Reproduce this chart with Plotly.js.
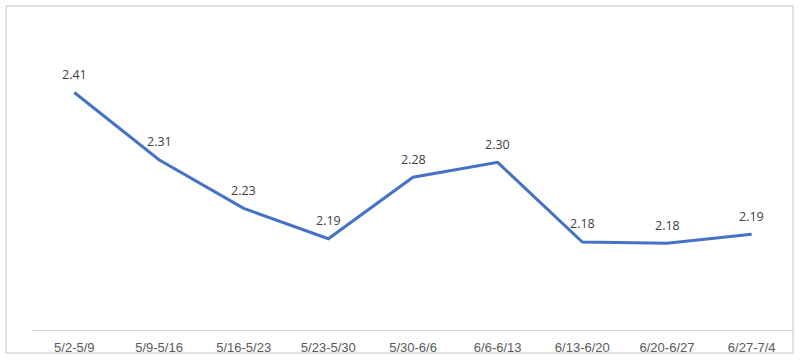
<!DOCTYPE html>
<html>
<head>
<meta charset="utf-8">
<script src="https://cdn.plot.ly/plotly-3.0.1.min.js"></script>
<style>html,body{margin:0;padding:0;background:#fff;}#chart{width:800px;height:361px;}</style>
</head>
<body>
<div id="chart"></div>
<script>
const weeks = ["5/2-5/9","5/9-5/16","5/16-5/23","5/23-5/30","5/30-6/6","6/6-6/13","6/13-6/20","6/20-6/27","6/27-7/4"];
const values = [2.412, 2.308, 2.233, 2.186, 2.281, 2.304, 2.181, 2.179, 2.193];

const W = 800, H = 361;
const m = {l: 32, r: 6, t: 20, b: 31};
const pw = W - m.l - m.r, ph = H - m.t - m.b;

const trace = {
  x: weeks, y: values, type: 'scatter', mode: 'lines',
  line: {color: '#4472C4', width: 3},
  hoverinfo: 'skip'
};

const annotations = weeks.map((w, i) => ({
  x: w, y: values[i], xref: 'x', yref: 'y',
  text: values[i].toFixed(2), showarrow: false,
  yanchor: 'middle', xanchor: 'center', yshift: 18,
  font: {family: 'Open Sans, sans-serif', size: 12.5, color: '#404040'}
}));

const layout = {
  width: W, height: H,
  margin: m,
  paper_bgcolor: '#fff', plot_bgcolor: '#fff',
  showlegend: false,
  xaxis: {
    type: 'category', showgrid: false, zeroline: false,
    showline: true, linecolor: '#d9d9d9', linewidth: 1,
    ticks: '', range: [-0.5, weeks.length - 0.5],
    ticklabelstandoff: 5,
    tickfont: {family: 'Liberation Sans, Arial, sans-serif', size: 13, color: '#595959'}
  },
  yaxis: {
    visible: false, showgrid: false, zeroline: false,
    range: [2.045, 2.524]
  },
  annotations: annotations,
  shapes: [{
    type: 'rect', xref: 'paper', yref: 'paper',
    x0: (6 - m.l) / pw, x1: (793 - m.l) / pw,
    y0: (H - m.b - 353) / ph, y1: (H - m.b - 6) / ph,
    line: {color: '#d9d9d9', width: 1.5}, fillcolor: 'rgba(0,0,0,0)', layer: 'below'
  }]
};

Plotly.newPlot('chart', [trace], layout, {displayModeBar: false, staticPlot: true});
</script>
</body>
</html>
